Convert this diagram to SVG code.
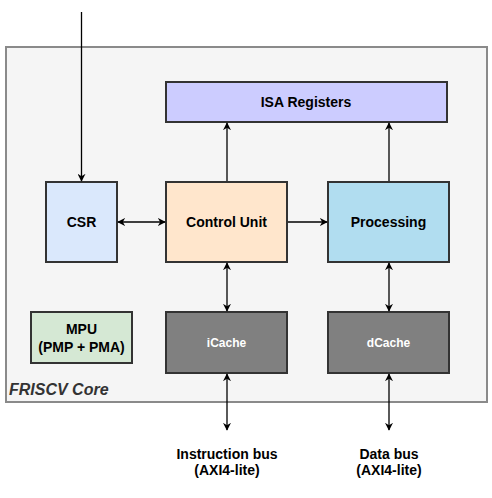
<svg xmlns="http://www.w3.org/2000/svg" width="492" height="498" viewBox="0 0 492 498">
<defs>
<marker id="ah" viewBox="0 0 10 10" refX="9" refY="5" markerWidth="8" markerHeight="8" markerUnits="userSpaceOnUse" orient="auto-start-reverse">
<path d="M0,0 L10,5 L0,10 L3,5 Z" fill="#000"/>
</marker>
<style>
.box{stroke:#333;stroke-width:2}
.t{font-family:"Liberation Sans",Arial,sans-serif;font-weight:bold;font-size:14px;text-anchor:middle;dominant-baseline:central;fill:#000}
.w{fill:#fff;font-size:12px}
.c{fill:none;stroke:#000;stroke-width:1.3}
</style>
</defs>
<rect width="492" height="498" fill="#fff"/>
<g id="core">
<rect x="6" y="47" width="481" height="355" fill="#f5f5f5" stroke="#8a8a8a" stroke-width="2"/>
<text x="9" y="389" font-family="Liberation Sans,Arial,sans-serif" font-weight="bold" font-style="italic" font-size="16" fill="#333" dominant-baseline="central">FRISCV Core</text>
</g>
<g id="isa">
<rect class="box" x="166" y="82" width="281" height="40" fill="#ccccff"/>
<text class="t" x="306" y="102">ISA Registers</text>
</g>
<g id="csr">
<rect class="box" x="46" y="182" width="71" height="80" fill="#dae8fc"/>
<text class="t" x="81.5" y="222">CSR</text>
</g>
<g id="control">
<rect class="box" x="166" y="182" width="121" height="80" fill="#ffe6cc"/>
<text class="t" x="226.5" y="222">Control Unit</text>
</g>
<g id="processing">
<rect class="box" x="328" y="182" width="121" height="80" fill="#b1ddf0"/>
<text class="t" x="388.5" y="222">Processing</text>
</g>
<g id="mpu">
<rect class="box" x="31" y="312" width="101" height="51" fill="#d5e8d4"/>
<text class="t" x="81.5" y="329">MPU</text>
<text class="t" x="81.5" y="347">(PMP + PMA)</text>
</g>
<g id="icache">
<rect class="box" x="166" y="312" width="121" height="61" fill="#808080"/>
<text class="t w" x="226.5" y="342.5">iCache</text>
</g>
<g id="dcache">
<rect class="box" x="328" y="312" width="121" height="61" fill="#808080"/>
<text class="t w" x="388.5" y="342.5">dCache</text>
</g>
<g id="ibus">
<text class="t" x="227" y="454">Instruction bus</text>
<text class="t" x="227" y="470">(AXI4-lite)</text>
</g>
<g id="dbus">
<text class="t" x="389" y="454">Data bus</text>
<text class="t" x="389" y="470">(AXI4-lite)</text>
</g>
<g id="connectors">
<line class="c" x1="81.5" y1="12" x2="81.5" y2="181" marker-end="url(#ah)"/>
<line class="c" x1="118" y1="222" x2="165" y2="222" marker-start="url(#ah)" marker-end="url(#ah)"/>
<line class="c" x1="227" y1="181" x2="227" y2="123" marker-end="url(#ah)"/>
<line class="c" x1="288" y1="222" x2="327" y2="222" marker-end="url(#ah)"/>
<line class="c" x1="389" y1="181" x2="389" y2="123" marker-end="url(#ah)"/>
<line class="c" x1="227" y1="263" x2="227" y2="311" marker-start="url(#ah)" marker-end="url(#ah)"/>
<line class="c" x1="389" y1="263" x2="389" y2="311" marker-start="url(#ah)" marker-end="url(#ah)"/>
<line class="c" x1="227" y1="374" x2="227" y2="430" marker-start="url(#ah)" marker-end="url(#ah)"/>
<line class="c" x1="389" y1="374" x2="389" y2="430" marker-start="url(#ah)" marker-end="url(#ah)"/>
</g>
</svg>
